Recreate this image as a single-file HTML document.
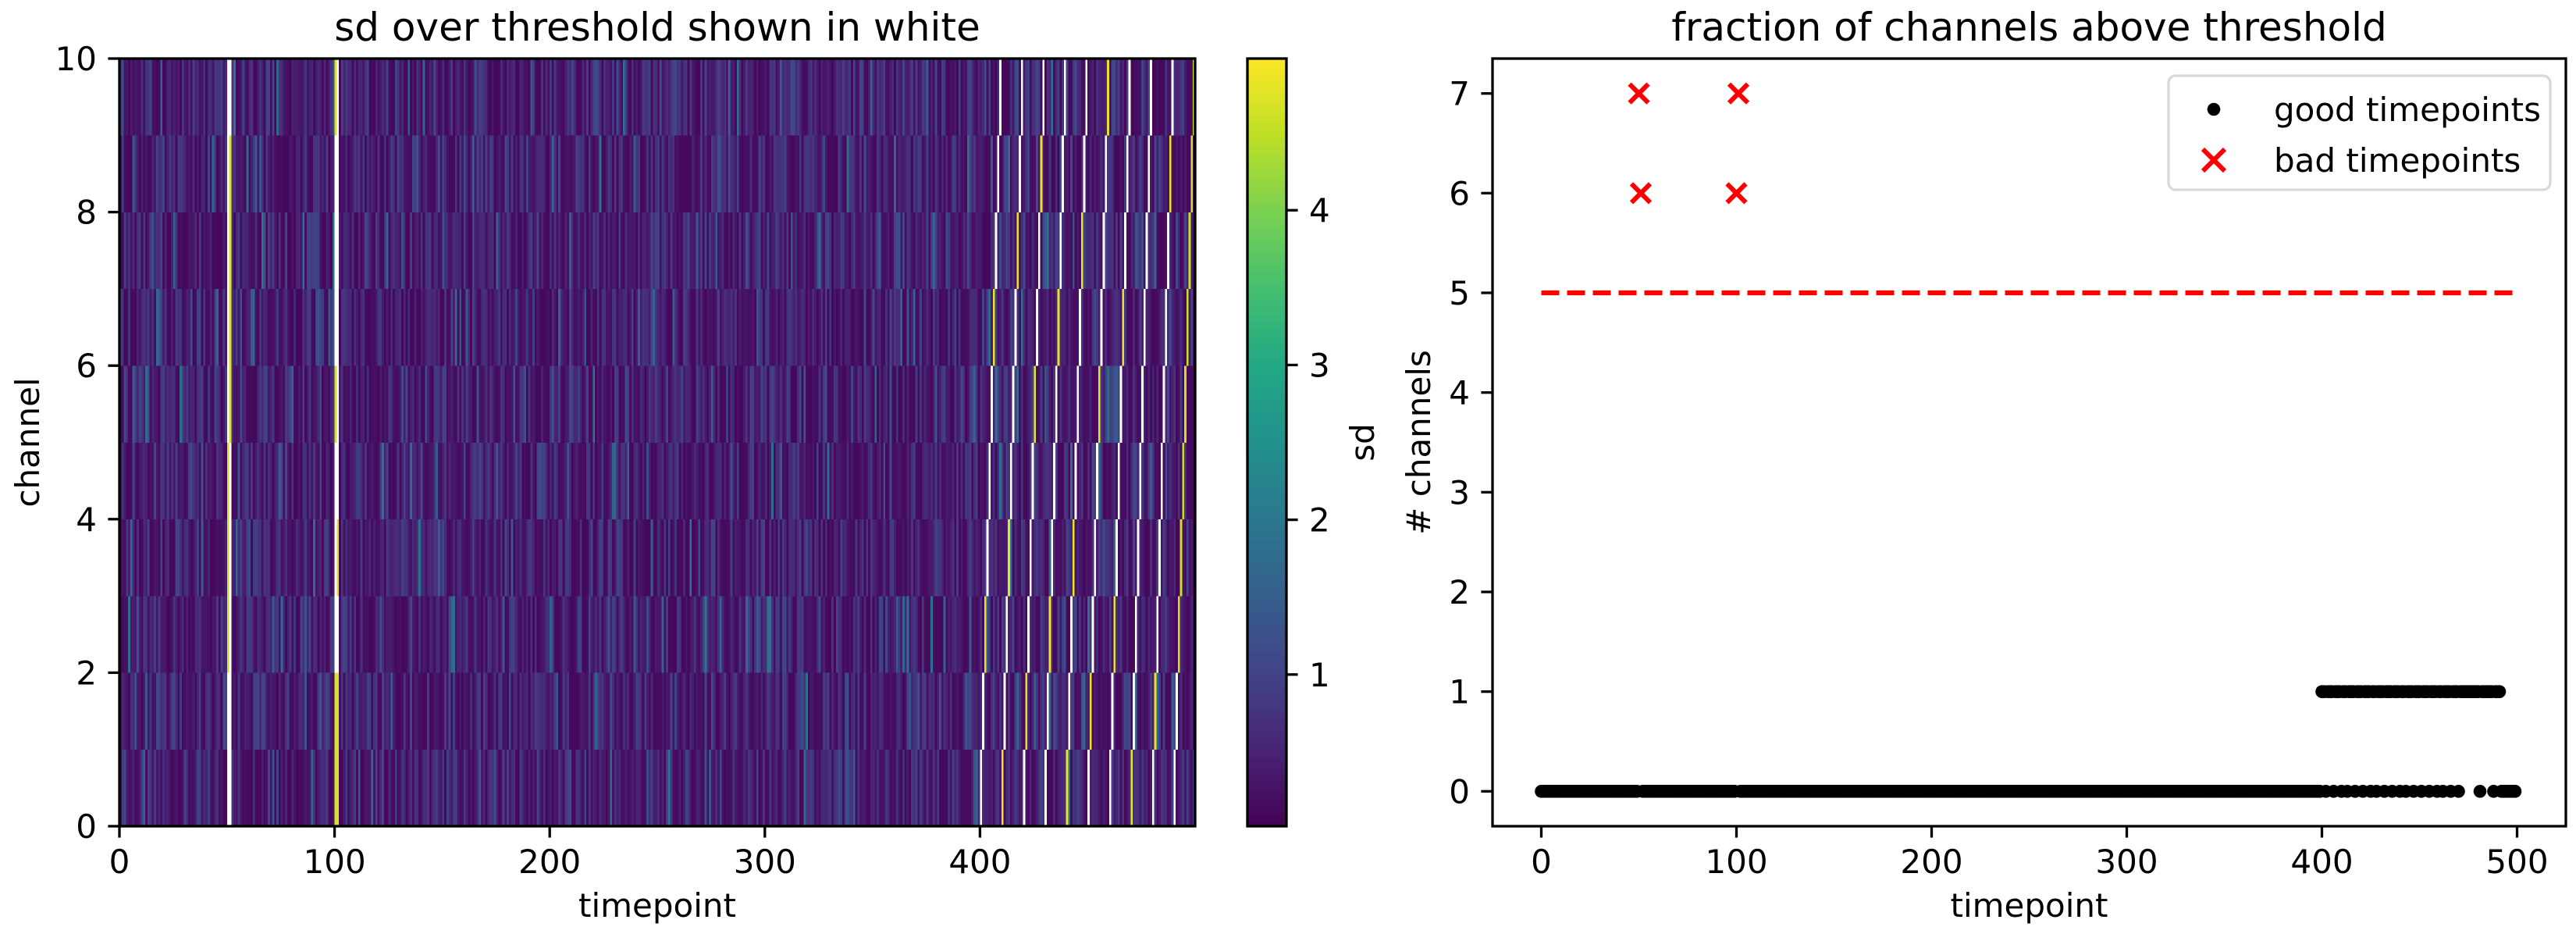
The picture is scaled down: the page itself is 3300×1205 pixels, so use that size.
<!DOCTYPE html>
<html><head><meta charset="utf-8"><style>
html,body{margin:0;padding:0;background:#fff;}
svg text{font-family:"DejaVu Sans","Liberation Sans",sans-serif;fill:#000;}
</style></head><body>
<svg id="fig" width="3300" height="1200" viewBox="0 0 3300 1200" xmlns="http://www.w3.org/2000/svg">
<defs>
<linearGradient id="vir" x1="0" y1="1" x2="0" y2="0">
<stop offset="0" stop-color="#440154"/><stop offset="0.1" stop-color="#482475"/><stop offset="0.2" stop-color="#414487"/><stop offset="0.3" stop-color="#355f8d"/><stop offset="0.4" stop-color="#2a788e"/><stop offset="0.5" stop-color="#21918c"/><stop offset="0.6" stop-color="#22a884"/><stop offset="0.7" stop-color="#44bf70"/><stop offset="0.8" stop-color="#7ad151"/><stop offset="0.9" stop-color="#bddf26"/><stop offset="1" stop-color="#fde725"/>
</linearGradient>
</defs>
<g id="heat" shape-rendering="crispEdges"></g>
<g id="left-axes"></g>
<g id="cbar"></g>
<g id="right-axes"></g>
<g id="pts"></g>
</svg>
<script>
// ---------- data ----------
const nChannels = 10;
const nTime = 500;
// over-threshold (white) cells at the early bad timepoints
const earlyBadTimes = [50, 51, 100, 101];
const earlyBadChans = [[0,1,5,6,7,8,9],[0,1,2,3,4,9],[2,3,4,6,7,8],[2,4,5,6,7,8,9]];
// late segment: for each t from 400, the channel flagged (white); -1 = none (near-threshold/yellow only)
const lateStart = 400;
const lateChan = [
0,1,-1,3,4,5,-1,7,8,9,
-1,1,2,-1,4,5,6,-1,8,9,
0,-1,2,3,4,-1,6,7,-1,9,
0,1,-1,3,4,5,-1,7,8,9,
-1,1,2,-1,4,5,6,-1,8,9,
0,-1,2,3,4,-1,6,7,8,-1,
0,1,-1,3,4,5,-1,7,8,9,
-1,1,2,3,4,5,6,7,8,9,
0,-1,2,3,4,5,6,7,-1,9,
0,1];
// near-threshold (yellow) channel per t in the late segment (diagonal cycle)
const lateYellow = [
0,1,2,3,4,5,6,7,8,9,0,1,2,3,4,5,6,7,8,9,0,1,2,3,4,5,6,7,8,9,0,1,2,3,4,5,6,7,8,9,
0,1,2,3,4,5,6,7,8,9,0,1,2,3,4,5,6,7,8,9,0,1,2,3,4,5,6,7,8,9,0,1,2,3,4,5,6,7,8,9,
0,1,2,3,4,5,6,7,8,9,0,1,2,3,4,5,6,7,8,9];
const thresholdCount = 5;
const xTicksHeat = [0,100,200,300,400];
const yTicksHeat = [0,2,4,6,8,10];
const cbarTicks = [1,2,3,4];
const xTicksScatter = [0,100,200,300,400,500];
const yTicksScatter = [0,1,2,3,4,5,6,7];

// ---------- helpers ----------
const NS = "http://www.w3.org/2000/svg";
function mk(tag, attrs, parent){const e=document.createElementNS(NS,tag);for(const k in attrs)e.setAttribute(k,attrs[k]);if(parent)parent.appendChild(e);return e;}
const vir=[[68,1,84],[72,36,117],[65,68,135],[53,95,141],[42,120,142],[33,145,140],[34,168,132],[68,191,112],[122,209,81],[189,223,38],[253,231,37]];
function viridis(f){f=Math.max(0,Math.min(1,f));const p=f*10,i=Math.min(9,Math.floor(p)),r=p-i;const a=vir[i],b=vir[i+1];
return "rgb("+[0,1,2].map(k=>Math.round(a[k]+(b[k]-a[k])*r)).join(",")+")";}
function texture(t,c){let h=Math.sin(t*12.9898+c*78.233)*43758.5453;h=h-Math.floor(h);let g=Math.sin(t*3.17+c*91.7)*9631.77;g=g-Math.floor(g);
let v=0.12+0.9*h*h; if(g>0.93)v+=0.9; return v;}

// build mask & values
const white=[],val=[];
for(let c=0;c<nChannels;c++){white.push(new Array(nTime).fill(false));val.push([]);for(let t=0;t<nTime;t++)val[c].push(texture(t,c));}
earlyBadTimes.forEach((t,i)=>{for(let c=0;c<nChannels;c++){if(earlyBadChans[i].includes(c))white[c][t]=true;else val[c][t]=4.7;}});
lateYellow.forEach((c,i)=>{const t=lateStart+i;if(t<nTime&&i>=lateChan.length)val[c][t]=4.6;});
lateChan.forEach((c,i)=>{const t=lateStart+i;if(c>=0)white[c][t]=true;else val[lateYellow[i]][t]=4.8;});
const counts=[];for(let t=0;t<nTime;t++){let n=0;for(let c=0;c<nChannels;c++)if(white[c][t])n++;counts.push(n);}

// ---------- left heatmap ----------
const HL=153,HR=1531,HT=75,HB=1058;
const hx=t=>HL+(HR-HL)*t/500, hy=c=>HB-(HB-HT)*c/10;
const heat=document.getElementById('heat');
const vmin=0.02,vmax=4.98;
for(let c=0;c<nChannels;c++){for(let t=0;t<nTime;t++){
 const r=mk('rect',{x:hx(t).toFixed(2),y:hy(c+1).toFixed(2),width:(hx(t+1)-hx(t)+0.3).toFixed(2),height:(hy(c)-hy(c+1)+0.3).toFixed(2),
  fill:white[c][t]?"#ffffff":viridis((val[c][t]-vmin)/(vmax-vmin))},heat);
 
 
}}
const la=document.getElementById('left-axes');
let fr=mk('rect',{x:HL,y:HT,width:HR-HL,height:HB-HT,fill:"none",stroke:"#000","stroke-width":3.3},la);

xTicksHeat.forEach(v=>{const x=hx(v);mk('line',{x1:x,x2:x,y1:HB,y2:HB+14.6,stroke:"#000","stroke-width":3.3},la);
 const tx=mk('text',{x:x,y:1118,"font-size":42,"text-anchor":"middle"},la);tx.textContent=v;
 });
yTicksHeat.forEach(v=>{const y=hy(v);mk('line',{x1:HL-14.6,x2:HL,y1:y,y2:y,stroke:"#000","stroke-width":3.3},la);
 const tx=mk('text',{x:HL-29,y:y+15,"font-size":42,"text-anchor":"end"},la);tx.textContent=v;
 });
let t1=mk('text',{x:(HL+HR)/2,y:1174,"font-size":42,"text-anchor":"middle"},la);t1.textContent="timepoint";

let t2=mk('text',{x:0,y:0,"font-size":42,"text-anchor":"middle",transform:"translate(50,"+((HT+HB)/2)+") rotate(-90)"},la);t2.textContent="channel";

let t3=mk('text',{x:(HL+HR)/2,y:52,"font-size":50,"text-anchor":"middle"},la);t3.textContent="sd over threshold shown in white";


// ---------- colorbar ----------
const CL=1598,CR=1648;
const cb=document.getElementById('cbar');
const cy=v=>HB-(HB-HT)*(v-vmin)/(vmax-vmin);
let cbr=mk('rect',{x:CL,y:HT,width:CR-CL,height:HB-HT,fill:"url(#vir)",stroke:"#000","stroke-width":3.3},cb);

cbarTicks.forEach(v=>{const y=cy(v);mk('line',{x1:CR,x2:CR+14.6,y1:y,y2:y,stroke:"#000","stroke-width":3.3},cb);
 const tx=mk('text',{x:CR+29,y:y+15,"font-size":42},cb);tx.textContent=v;
 });
let t4=mk('text',{x:0,y:0,"font-size":42,"text-anchor":"middle",transform:"translate(1760,"+((HT+HB)/2)+") rotate(-90)"},cb);t4.textContent="sd";


// ---------- right scatter ----------
const RL=1912,RR=3287;
const sx=t=>RL+(RR-RL)*(t+25)/550, sy=n=>HB-(HB-HT)*(n+0.35)/7.7;
const ra=document.getElementById('right-axes');
const ln=mk('line',{x1:sx(0),x2:sx(500),y1:sy(thresholdCount),y2:sy(thresholdCount),stroke:"#ff0000","stroke-width":6.25,"stroke-dasharray":"23 10"},ra);

const pts=document.getElementById('pts');
for(let t=0;t<nTime;t++){if(counts[t]<=thresholdCount){
 const d=mk('circle',{cx:sx(t).toFixed(2),cy:sy(counts[t]).toFixed(2),r:8.3,fill:"#000"},pts);
 
 
}}
for(let t=0;t<nTime;t++){if(counts[t]>thresholdCount){
 const x=sx(t),y=sy(counts[t]),s=12;
 const g=mk('path',{d:`M${x-s},${y-s}L${x+s},${y+s}M${x-s},${y+s}L${x+s},${y-s}`,stroke:"#ff0000","stroke-width":6,fill:"none"},pts);
 
 
}}
let fr2=mk('rect',{x:RL,y:HT,width:RR-RL,height:HB-HT,fill:"none",stroke:"#000","stroke-width":3.3},ra);

xTicksScatter.forEach(v=>{const x=sx(v);mk('line',{x1:x,x2:x,y1:HB,y2:HB+14.6,stroke:"#000","stroke-width":3.3},ra);
 const tx=mk('text',{x:x,y:1118,"font-size":42,"text-anchor":"middle"},ra);tx.textContent=v;
 });
yTicksScatter.forEach(v=>{const y=sy(v);mk('line',{x1:RL-14.6,x2:RL,y1:y,y2:y,stroke:"#000","stroke-width":3.3},ra);
 const tx=mk('text',{x:RL-29,y:y+15,"font-size":42,"text-anchor":"end"},ra);tx.textContent=v;
 });
let t5=mk('text',{x:(RL+RR)/2,y:1174,"font-size":42,"text-anchor":"middle"},ra);t5.textContent="timepoint";

let t6=mk('text',{x:0,y:0,"font-size":42,"text-anchor":"middle",transform:"translate(1832,"+((HT+HB)/2)+") rotate(-90)"},ra);t6.textContent="# channels";

let t7=mk('text',{x:(RL+RR)/2,y:52,"font-size":50,"text-anchor":"middle"},ra);t7.textContent="fraction of channels above threshold";


// legend
const lg=mk('g',{},ra);

mk('rect',{x:2778,y:97,width:489,height:146,rx:9,fill:"#fff","fill-opacity":0.8,stroke:"#d9d9d9","stroke-width":3.3},lg);
mk('circle',{cx:2836,cy:140,r:8.3,fill:"#000"},lg);
mk('path',{d:"M2822,191L2850,219M2822,219L2850,191",stroke:"#ff0000","stroke-width":6},lg);
let l1=mk('text',{x:2913,y:155,"font-size":42},lg);l1.textContent="good timepoints";

let l2=mk('text',{x:2913,y:220,"font-size":42},lg);l2.textContent="bad timepoints";

</script>
</body></html>
